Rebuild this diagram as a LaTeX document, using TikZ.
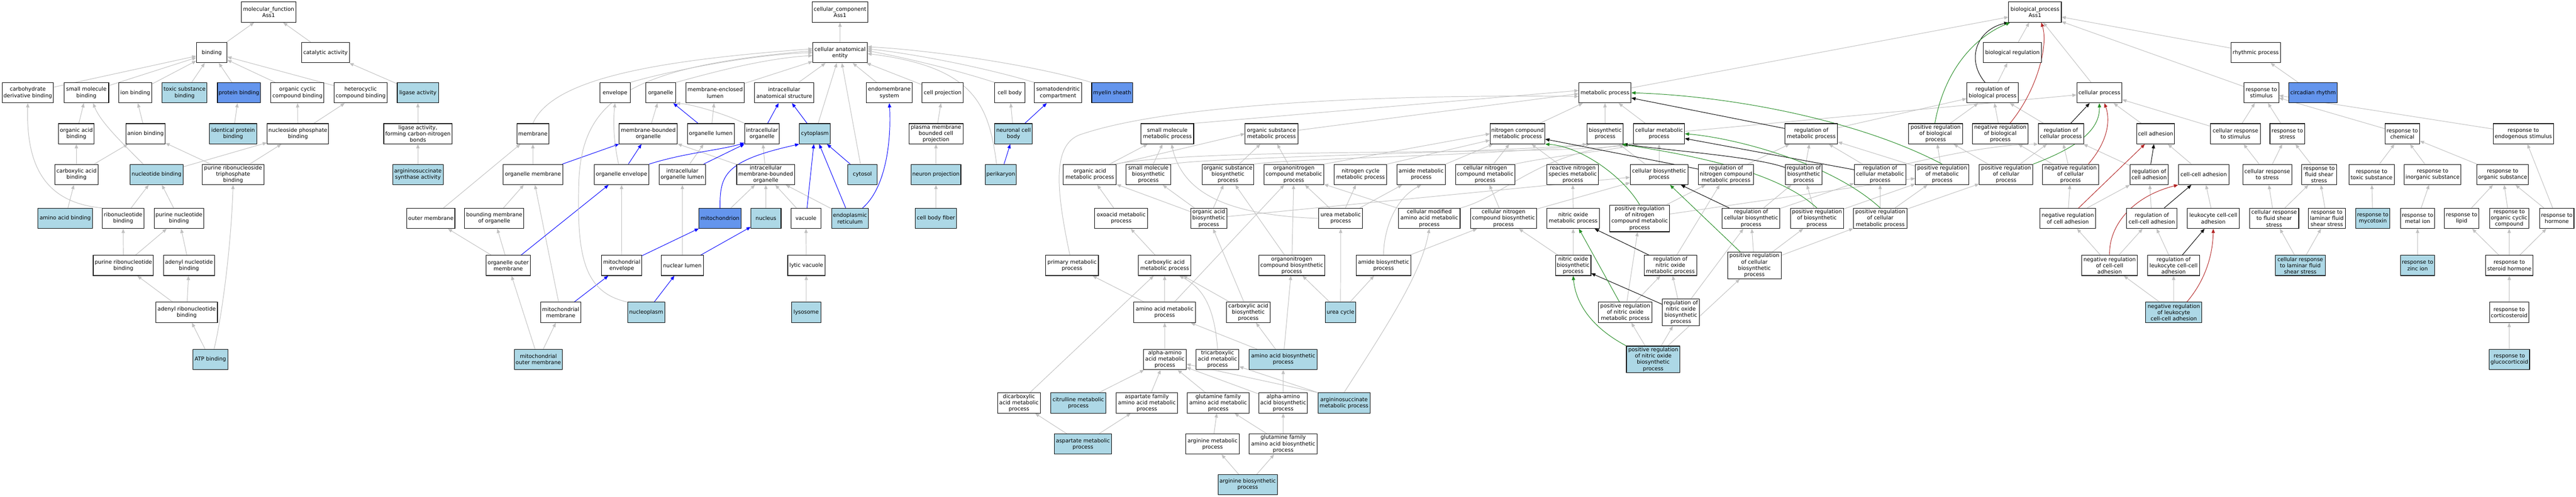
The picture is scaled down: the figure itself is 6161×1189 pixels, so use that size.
\documentclass[tikz,border=0pt]{standalone}
\usepackage{fontspec}
\setmainfont{DejaVu Sans}
\usetikzlibrary{arrows.meta}
\definecolor{lb}{HTML}{ADD8E6}
\definecolor{cbl}{HTML}{6495ED}
\definecolor{eg}{HTML}{C0C0C0}
\definecolor{gr}{HTML}{228B22}
\definecolor{rd}{HTML}{B22222}
\pgfdeclarelayer{bglayer}
\pgfdeclarelayer{edgelayer}
\pgfsetlayers{bglayer,edgelayer,main}
\tikzset{
 box/.style={draw=black, line width=1.3pt, rectangle, inner sep=1pt, minimum height=48.5pt, align=center, font=\fontsize{12.8}{15}\selectfont, fill=white},
 lbf/.style={fill=lb}, cbf/.style={fill=cbl}, tall/.style={minimum height=64pt},
 isa/.style={draw=eg, line width=1.2pt, -{Triangle[length=10pt,width=8pt]}},
 po/.style={isa, draw=blue},
 rg/.style={isa, draw=black},
 pr/.style={isa, draw=gr},
 nr/.style={isa, draw=rd}
}
\newcommand{\gn}[6]{\pgfmathsetmacro{\gnw}{#3-#2}\pgfmathsetmacro{\gnx}{(#2+#3)/2}\node[box,#5,minimum width=\gnw pt] (#1) at (\gnx,#4) {#6};}
\begin{document}
\begin{tikzpicture}[x=1pt,y=-1pt]
\begin{pgfonlayer}{bglayer}
\fill[white] (0,0) rectangle (6161,1189);
\end{pgfonlayer}
\useasboundingbox (0,0) rectangle (6161,1189);
% ---------------- molecular function
\gn{mf}{577}{708}{29}{}{molecular\_function\\Ass1}
\gn{binding}{470}{543}{126}{}{binding}
\gn{catalytic}{721}{836}{126}{}{catalytic activity}
\gn{carbder}{5}{128}{222}{}{carbohydrate\\derivative binding}
\gn{smallmol}{153}{260}{222}{}{small molecule\\binding}
\gn{ionb}{284}{363}{222}{}{ion binding}
\gn{toxicb}{388}{495}{222}{lbf}{toxic substance\\binding}
\gn{protb}{520}{623}{222}{cbf}{protein binding}
\gn{orgcyc}{648}{775}{222}{}{organic cyclic\\compound binding}
\gn{hetcyc}{799}{926}{222}{}{heterocyclic\\compound binding}
\gn{ligase}{950}{1049}{222}{lbf}{ligase activity}
\gn{orgacidb}{140}{225}{320}{}{organic acid\\binding}
\gn{anionb}{301}{395}{320}{}{anion binding}
\gn{identprot}{501}{614}{320}{lbf}{identical protein\\binding}
\gn{nucphos}{639}{786}{320}{}{nucleoside phosphate\\binding}
\gn{ligaseCN}{918}{1081}{320}{}{ligase activity,\\forming carbon-nitrogen\\bonds}
\gn{carbacidb}{131}{235}{417.5}{}{carboxylic acid\\binding}
\gn{nucleotideb}{311}{438}{417.5}{lbf}{nucleotide binding}
\gn{purRNTP}{484}{631}{417.5}{}{purine ribonucleoside\\triphosphate\\binding}
\gn{argsynth}{939}{1060}{417.5}{lbf}{argininosuccinate\\synthase activity}
\gn{aab}{91}{221}{522.5}{lbf}{amino acid binding}
\gn{ribob}{245}{344}{522.5}{}{ribonucleotide\\binding}
\gn{purnucb}{369}{487}{522.5}{}{purine nucleotide\\binding}
\gn{outermem}{973}{1088}{522.5}{}{outer membrane}
\gn{purribob}{223}{367}{635}{}{purine ribonucleotide\\binding}
\gn{adenylnb}{391}{513}{635}{}{adenyl nucleotide\\binding}
\gn{adenylrb}{373}{520}{747.5}{}{adenyl ribonucleotide\\binding}
\gn{atpb}{461}{545}{860}{lbf}{ATP binding}
% ---------------- cellular component
\gn{cc}{1942}{2076}{29}{}{cellular\_component\\Ass1}
\gn{cae}{1944}{2074}{126}{}{cellular anatomical\\entity}
\gn{envelope}{1435}{1507}{222}{}{envelope}
\gn{organelle}{1544}{1616}{222}{}{organelle}
\gn{memlumen}{1641}{1780}{222}{}{membrane-enclosed\\lumen}
\gn{intraas}{1805}{1946}{222}{}{intracellular\\anatomical structure}
\gn{endomem}{2072}{2182}{222}{}{endomembrane\\system}
\gn{cellproj}{2205}{2304}{222}{}{cell projection}
\gn{cellbody}{2379}{2451}{222}{}{cell body}
\gn{somato}{2474}{2587}{222}{}{somatodendritic\\compartment}
\gn{myelin}{2611}{2709}{222}{cbf}{myelin sheath}
\gn{membrane}{1236}{1313}{320}{}{membrane}
\gn{mbo}{1481}{1620}{320}{}{membrane-bounded\\organelle}
\gn{orglumen}{1644}{1756}{320}{}{organelle lumen}
\gn{intraorg}{1781}{1864}{320}{}{intracellular\\organelle}
\gn{cytoplasm}{1912}{1986}{320}{lbf}{cytoplasm}
\gn{pmbcp}{2174}{2303}{320}{}{plasma membrane\\bounded cell\\projection}
\gn{ncb}{2379}{2469}{320}{lbf}{neuronal cell\\body}
\gn{orgmem}{1203}{1346}{417.5}{}{organelle membrane}
\gn{orgenv}{1421}{1552}{417.5}{}{organelle envelope}
\gn{iol}{1576}{1688}{417.5}{}{intracellular\\organelle lumen}
\gn{imbo}{1762}{1901}{417.5}{}{intracellular\\membrane-bounded\\organelle}
\gn{cytosol}{2027}{2098}{417.5}{lbf}{cytosol}
\gn{neuronproj}{2179}{2298}{417.5}{lbf}{neuron projection}
\gn{perikaryon}{2356}{2431}{417.5}{lbf}{perikaryon}
\gn{bmo}{1111}{1253}{522.5}{}{bounding membrane\\of organelle}
\gn{mito}{1672}{1772}{522.5}{cbf}{mitochondrion}
\gn{nucleus}{1796}{1868}{522.5}{lbf}{nucleus}
\gn{vacuole}{1892}{1963}{522.5}{}{vacuole}
\gn{er}{1989}{2077}{522.5}{lbf}{endoplasmic\\reticulum}
\gn{cbf}{2189}{2288}{522.5}{lbf}{cell body fiber}
\gn{oom}{1163}{1268}{635}{}{organelle outer\\membrane}
\gn{mitoenv}{1439}{1535}{635}{}{mitochondrial\\envelope}
\gn{nuclumen}{1582}{1682}{635}{}{nuclear lumen}
\gn{lyticvac}{1884}{1973}{635}{}{lytic vacuole}
\gn{mitomem}{1293}{1389}{747.5}{}{mitochondrial\\membrane}
\gn{nucleoplasm}{1501}{1590}{747.5}{lbf}{nucleoplasm}
\gn{lysosome}{1893}{1963}{747.5}{lbf}{lysosome}
\gn{mom}{1230}{1345}{860}{lbf}{mitochondrial\\outer membrane}
% ---------------- biological process
\gn{bp}{4804}{4930}{29}{}{biological\_process\\Ass1}
\gn{bioreg}{4743}{4883}{126}{}{biological regulation}
\gn{rhythmic}{5336}{5454}{126}{}{rhythmic process}
\gn{metab}{3776}{3901}{222}{}{metabolic process}
\gn{regbp}{4704}{4827}{222}{}{regulation of\\biological process}
\gn{cellproc}{4967}{5075}{222}{}{cellular process}
\gn{respstim}{5367}{5450}{222}{}{response to\\stimulus}
\gn{circadian}{5474}{5590}{222}{cbf}{circadian rhythm}
\gn{smmp}{2729}{2855}{320}{}{small molecule\\metabolic process}
\gn{osmp}{2978}{3104}{320}{}{organic substance\\metabolic process}
\gn{ncmp}{3564}{3695}{320}{}{nitrogen compound\\metabolic process}
\gn{biosyn}{3796}{3882}{320}{}{biosynthetic\\process}
\gn{cellmet}{3907}{4029}{320}{}{cellular metabolic\\process}
\gn{regmp}{4269}{4395}{320}{}{regulation of\\metabolic process}
\gn{posregbp}{4565}{4694}{320}{}{positive regulation\\of biological\\process}
\gn{negregbp}{4717}{4851}{320}{}{negative regulation\\of biological\\process}
\gn{regcp}{4875}{4983}{320}{}{regulation of\\cellular process}
\gn{celladh}{5110}{5201}{320}{}{cell adhesion}
\gn{crstim}{5287}{5406}{320}{}{cellular response\\to stimulus}
\gn{rstress}{5429}{5512}{320}{}{response to\\stress}
\gn{rchem}{5704}{5787}{320}{}{response to\\chemical}
\gn{rendo}{5963}{6107}{320}{}{response to\\endogenous stimulus}
\gn{oamp}{2543}{2670}{417.5}{}{organic acid\\metabolic process}
\gn{smbp}{2693}{2800}{417.5}{}{small molecule\\biosynthetic\\process}
\gn{osbp}{2875}{2999}{417.5}{}{organic substance\\biosynthetic\\process}
\gn{oncmp}{3023}{3166}{417.5}{}{organonitrogen\\compound metabolic\\process}
\gn{ncycle}{3191}{3317}{417.5}{}{nitrogen cycle\\metabolic process}
\gn{amidemp}{3341}{3457}{417.5}{}{amide metabolic\\process}
\gn{cncmp}{3481}{3623}{417.5}{}{cellular nitrogen\\compound metabolic\\process}
\gn{rnsmp}{3700}{3823}{417.5}{}{reactive nitrogen\\species metabolic\\process}
\gn{cbp}{3899}{4037}{417.5}{}{cellular biosynthetic\\process}
\gn{regncmp}{4062}{4194}{417.5}{}{regulation of\\nitrogen compound\\metabolic process}
\gn{regbiosyn}{4270}{4358}{417.5}{}{regulation of\\biosynthetic\\process}
\gn{regcmp}{4435}{4558}{417.5}{}{regulation of\\cellular metabolic\\process}
\gn{posregmp}{4581}{4709}{417.5}{}{positive regulation\\of metabolic\\process}
\gn{posregcp}{4734}{4862}{417.5}{}{positive regulation\\of cellular\\process}
\gn{negregcp}{4885}{5019}{417.5}{}{negative regulation\\of cellular\\process}
\gn{regcelladh}{5094}{5186}{417.5}{}{regulation of\\cell adhesion}
\gn{ccadh}{5210}{5331}{417.5}{}{cell-cell adhesion}
\gn{crstress}{5364}{5481}{417.5}{}{cellular response\\to stress}
\gn{rfluid}{5505}{5588}{417.5}{}{response to\\fluid shear\\stress}
\gn{rtoxic}{5618}{5726}{417.5}{}{response to\\toxic substance}
\gn{rinorg}{5750}{5886}{417.5}{}{response to\\inorganic substance}
\gn{rorgsub}{5924}{6047}{417.5}{}{response to\\organic substance}
\gn{oxoacid}{2618}{2745}{522.5}{}{oxoacid metabolic\\process}
\gn{oabp}{2848}{2934}{522.5}{}{organic acid\\biosynthetic\\process}
\gn{ureamp}{3154}{3259}{522.5}{}{urea metabolic\\process}
\gn{cmaamp}{3345}{3492}{522.5}{}{cellular modified\\amino acid metabolic\\process}
\gn{cncbp}{3517}{3675}{522.5}{}{cellular nitrogen\\compound biosynthetic\\process}
\gn{nomp}{3700}{3825}{522.5}{}{nitric oxide\\metabolic process}
\gn{posregncmp}{3850}{3993}{522.5}{tall}{positive regulation\\of nitrogen\\compound metabolic\\process}
\gn{regcbp}{4119}{4257}{522.5}{}{regulation of\\cellular biosynthetic\\process}
\gn{posregbiosyn}{4282}{4409}{522.5}{}{positive regulation\\of biosynthetic\\process}
\gn{posregcmp}{4433}{4561}{522.5}{}{positive regulation\\of cellular\\metabolic process}
\gn{negregca}{4879}{5012}{522.5}{}{negative regulation\\of cell adhesion}
\gn{regccadh}{5086}{5207}{522.5}{}{regulation of\\cell-cell adhesion}
\gn{leukccadh}{5231}{5356}{522.5}{}{leukocyte cell-cell\\adhesion}
\gn{crfluid}{5380}{5498}{522.5}{}{cellular response\\to fluid shear\\stress}
\gn{rlaminar}{5521}{5609}{522.5}{}{response to\\laminar fluid\\shear stress}
\gn{rmyco}{5634}{5716}{522.5}{lbf}{response to\\mycotoxin}
\gn{rmetal}{5741}{5823}{522.5}{}{response to\\metal ion}
\gn{rlipid}{5846}{5929}{522.5}{}{response to\\lipid}
\gn{rorgcyc}{5954}{6048}{522.5}{}{response to\\organic cyclic\\compound}
\gn{rhormone}{6074}{6156}{522.5}{}{response to\\hormone}
\gn{primary}{2501}{2627}{635}{}{primary metabolic\\process}
\gn{camp}{2723}{2848}{635}{}{carboxylic acid\\metabolic process}
\gn{oncbp}{3011}{3168}{635}{}{organonitrogen\\compound biosynthetic\\process}
\gn{amidebp}{3244}{3374}{635}{}{amide biosynthetic\\process}
\gn{nobp}{3720}{3805}{635}{}{nitric oxide\\biosynthetic\\process}
\gn{regnomp}{3932}{4058}{635}{}{regulation of\\nitric oxide\\metabolic process}
\gn{posregcbp}{4132}{4260}{635}{tall}{positive regulation\\of cellular\\biosynthetic\\process}
\gn{negregccadh}{4979}{5112}{635}{}{negative regulation\\of cell-cell\\adhesion}
\gn{regleuk}{5136}{5261}{635}{}{regulation of\\leukocyte cell-cell\\adhesion}
\gn{crlaminar}{5442}{5561}{635}{lbf}{cellular response\\to laminar fluid\\shear stress}
\gn{rzinc}{5741}{5823}{635}{lbf}{response to\\zinc ion}
\gn{rsteroid}{5945}{6058}{635}{}{response to\\steroid hormone}
\gn{aamp}{2712}{2859}{747.5}{}{amino acid metabolic\\process}
\gn{cabp}{2933}{3038}{747.5}{}{carboxylic acid\\biosynthetic\\process}
\gn{ureacycle}{3170}{3242}{747.5}{lbf}{urea cycle}
\gn{posregnomp}{3823}{3951}{747.5}{}{positive regulation\\of nitric oxide\\metabolic process}
\gn{regnobp}{3976}{4064}{747.5}{tall}{regulation of\\nitric oxide\\biosynthetic\\process}
\gn{negregleuk}{5132}{5266}{747.5}{lbf}{negative regulation\\of leukocyte\\cell-cell adhesion}
\gn{rcortico}{5954}{6048}{747.5}{}{response to\\corticosteroid}
\gn{aaamp}{2735}{2837}{860}{}{alpha-amino\\acid metabolic\\process}
\gn{tcamp}{2861}{2963}{860}{}{tricarboxylic\\acid metabolic\\process}
\gn{aabp}{2988}{3150}{860}{lbf}{amino acid biosynthetic\\process}
\gn{posregnobp}{3890}{4018}{860}{tall,lbf}{positive regulation\\of nitric oxide\\biosynthetic\\process}
\gn{rgluco}{5953}{6050}{860}{lbf}{response to\\glucocorticoid}
\gn{dcamp}{2386}{2488}{964}{}{dicarboxylic\\acid metabolic\\process}
\gn{citrulline}{2513}{2645}{964}{lbf}{citrulline metabolic\\process}
\gn{aspfam}{2670}{2816}{964}{}{aspartate family\\amino acid metabolic\\process}
\gn{glnfam}{2840}{2987}{964}{}{glutamine family\\amino acid metabolic\\process}
\gn{aaabp}{3011}{3127}{964}{}{alpha-amino\\acid biosynthetic\\process}
\gn{argsuccmp}{3152}{3277}{964}{lbf}{argininosuccinate\\metabolic process}
\gn{aspmp}{2522}{2658}{1062.5}{lbf}{aspartate metabolic\\process}
\gn{argmp}{2836}{2964}{1062.5}{}{arginine metabolic\\process}
\gn{glnfambp}{2988}{3150}{1062.5}{}{glutamine family\\amino acid biosynthetic\\process}
\gn{argbp}{2913}{3055}{1159.5}{lbf}{arginine biosynthetic\\process}

\begin{pgfonlayer}{edgelayer}
% ---- MF edges
\foreach \a/\b in {binding/mf, catalytic/mf, carbder/binding, smallmol/binding, ionb/binding, toxicb/binding, protb/binding, orgcyc/binding, hetcyc/binding, ligase/catalytic, orgacidb/smallmol, anionb/ionb, identprot/protb, nucphos/orgcyc, nucphos/hetcyc, ligaseCN/ligase, carbacidb/orgacidb, carbacidb/anionb, nucleotideb/nucphos, purRNTP/anionb, purRNTP/nucphos, argsynth/ligaseCN, aab/carbacidb, ribob/nucleotideb, purnucb/nucleotideb, purribob/ribob, purribob/purnucb, adenylnb/purnucb, adenylrb/purribob, adenylrb/adenylnb, atpb/adenylrb}
  \draw[isa] (\a) -- (\b);
\draw[isa] (ribob.north west) .. controls (110,485) and (62,400) .. (carbder.south);
\draw[isa] ([xshift=9pt]atpb.north) .. controls (530,760) and (552,600) .. (purRNTP.south);
\draw[isa] ([xshift=-32pt]nucleotideb.north) .. controls (280,330) and (240,290) .. ([xshift=16pt]smallmol.south);
% ---- CC edges
\foreach \a/\b in {cae/cc, memlumen/cae, intraas/cae, endomem/cae, cellproj/cae, cytoplasm/cae, cytosol/cae, mbo/organelle, orglumen/memlumen, pmbcp/cellproj, ncb/cellbody, orgmem/membrane, iol/orglumen, imbo/mbo, imbo/intraorg, neuronproj/pmbcp, outermem/membrane, bmo/orgmem, mito/imbo, nucleus/imbo, vacuole/imbo, er/imbo, cbf/neuronproj, oom/outermem, oom/bmo, mitoenv/orgenv, nuclumen/iol, lyticvac/vacuole, mitomem/orgmem, lysosome/lyticvac, mom/oom, mom/mitomem}
  \draw[isa] (\a) -- (\b);
\foreach \a/\b in {orglumen/organelle, intraorg/intraas, cytoplasm/intraas, ncb/somato, orgmem/mbo, orgenv/mbo, perikaryon/ncb, vacuole/cytoplasm, er/cytoplasm, cytosol/cytoplasm, oom/orgenv, mitoenv/mito, nuclumen/nucleus, mitomem/mitoenv, nucleoplasm/nuclumen}
  \draw[po] (\a) -- (\b);
\draw[po] (iol) -- (intraorg.south west);
\draw[isa] (membrane.north) .. controls (1320,190) and (1560,145) .. (cae.172);
\draw[isa] (nucleoplasm.north west) .. controls (1400,700) and (1380,620) .. (1384,450) .. controls (1386,240) and (1500,160) .. (cae.176);
\draw[isa] (envelope.north east) .. controls (1600,170) and (1800,130) .. (cae.180);
\draw[isa] (organelle.north east) .. controls (1680,180) and (1820,140) .. (cae.186);
\draw[isa] ([xshift=-7pt]orgenv.north) .. controls (1470,350) and (1465,300) .. (envelope.south);
\draw[isa] (intraorg.north west) .. controls (1740,275) and (1660,250) .. (organelle.south east);
\draw[isa] ([xshift=-10pt]perikaryon.north) .. controls (2365,250) and (2330,160) .. (cae.-2);
\draw[isa] (cellbody.north west) .. controls (2280,165) and (2150,135) .. (cae.4);
\draw[isa] (somato.north west) .. controls (2350,160) and (2180,128) .. (cae.8);
\draw[isa] (myelin.north west) .. controls (2450,150) and (2200,118) .. (cae.12);
\draw[po] ([xshift=30pt]er.north) .. controls (2118,450) and (2132,340) .. (endomem.south);
\draw[po] (mito.north) .. controls (1722,420) and (1730,385) .. (cytoplasm.south west);
\draw[po] (orgenv.north east) .. controls (1640,365) and (1720,360) .. ([yshift=3pt]intraorg.south west);
% ---- BP edges (is_a)
\foreach \a/\b in {metab/bp, bioreg/bp, regbp/bioreg, posregbp/regbp, negregbp/regbp, cellproc/bp, rhythmic/bp, respstim/bp, circadian/rhythmic, ncmp/metab, biosyn/metab, cellmet/metab, cellmet/cellproc, regcp/regbp, posregcp/regcp, posregcp/posregbp, negregcp/regcp, negregcp/negregbp, celladh/cellproc, crstim/cellproc, crstim/respstim, rstress/respstim, rchem/respstim, rendo/respstim, regmp/regbp, regncmp/regmp, regbiosyn/regmp, regcmp/regmp, posregmp/regmp, posregmp/posregbp, regcbp/regbiosyn, regcbp/regcmp, posregbiosyn/regbiosyn, posregbiosyn/posregmp, posregcmp/regcmp, posregcmp/posregmp, posregcmp/posregcp, posregcbp/regcbp, posregcbp/posregbiosyn, posregcbp/posregcmp, posregncmp/regncmp, posregncmp/posregmp, regnomp/regncmp, posregnomp/posregncmp, posregnomp/regnomp, regnobp/regnomp, regnobp/regcbp, posregnobp/posregnomp, posregnobp/regnobp, posregnobp/posregcbp, nobp/nomp, nobp/cncbp, nomp/rnsmp, rnsmp/ncmp, oamp/smmp, smbp/smmp, osbp/osmp, oncmp/osmp, oxoacid/oamp, oabp/oamp, oabp/smbp, oabp/osbp, oabp/cbp, camp/oxoacid, cabp/camp, cabp/oabp, aamp/primary, aamp/camp, aamp/oncmp, cncmp/ncmp, cbp/biosyn, cbp/cellmet, ureamp/ncycle, ureamp/oncmp, ureamp/amidemp, cmaamp/oncmp, cncbp/cncmp, cncbp/cbp, oncbp/oncmp, oncbp/osbp, amidebp/cncbp, ureacycle/ureamp, ureacycle/oncbp, ureacycle/amidebp, aaamp/aamp, aabp/aamp, aabp/cabp, aabp/oncbp, dcamp/camp, citrulline/aaamp, aspfam/aaamp, glnfam/aaamp, aaabp/aaamp, aaabp/aabp, aspmp/dcamp, aspmp/aspfam, argmp/glnfam, glnfambp/glnfam, glnfambp/aaabp, argbp/argmp, argbp/glnfambp, regcelladh/regcp, negregca/negregcp, negregca/regcelladh, ccadh/celladh, regccadh/regcelladh, leukccadh/ccadh, negregccadh/negregca, negregccadh/regccadh, regleuk/regccadh, negregleuk/regleuk, negregleuk/negregccadh, crstress/crstim, crstress/rstress, rfluid/rstress, rtoxic/rchem, rinorg/rchem, rorgsub/rchem, crfluid/crstress, crfluid/rfluid, rlaminar/rfluid, rmyco/rtoxic, rmetal/rinorg, rlipid/rorgsub, rorgcyc/rorgsub, rhormone/rorgsub, rhormone/rendo, crlaminar/crfluid, crlaminar/rlaminar, rzinc/rmetal, rsteroid/rlipid, rsteroid/rorgcyc, rsteroid/rhormone, rcortico/rsteroid, rgluco/rcortico}
  \draw[isa] (\a) -- (\b);
\draw[isa] (smmp.north east) -- (metab.175);
\draw[isa] (osmp) -- (metab.182);
\draw[isa] (oamp.north east) -- (osmp.west);
\draw[isa] (oncmp.north east) -- (ncmp.west);
\draw[isa] (ncycle.north east) -- (ncmp);
\draw[isa] (amidemp.north east) -- (ncmp);
\draw[isa] (argsuccmp.north west) -- (aaamp);
\draw[isa] (argsuccmp.north west) -- (tcamp);
\draw[isa] (primary) .. controls (2525,450) and (2515,340) .. (2590,320) .. controls (2800,250) and (3300,225) .. (metab.188);
\draw[isa] (tcamp.north) .. controls (2905,740) and (2880,690) .. ([xshift=35pt]camp.south);
\draw[isa] ([xshift=-5pt]oamp.north east) .. controls (2900,350) and (3700,375) .. (cellmet.south west);
\draw[isa] (ureamp.west) .. controls (2950,515) and (2830,470) .. ([xshift=10pt]smmp.south);
\draw[isa] (cmaamp.north east) .. controls (3600,470) and (3680,360) .. ([xshift=6pt]cellmet.south west);
\draw[isa] (cncmp.north east) .. controls (3700,375) and (3850,360) .. ([xshift=12pt]cellmet.south west);
\draw[isa] (argsuccmp.north) .. controls (3330,760) and (3400,650) .. (cmaamp.south);
\draw[isa] (amidebp.north) .. controls (3309,560) and (3330,480) .. (amidemp.south);
\draw[isa] (smbp.north east) .. controls (2900,375) and (3600,365) .. (biosyn.south west);
\draw[isa] (osbp.north east) .. controls (3100,378) and (3600,372) .. ([xshift=8pt]biosyn.south west);
\draw[isa] (regcmp.north east) .. controls (4700,360) and (4800,345) .. (regcp.south west);
% ---- regulates
\foreach \a/\b in {regcp/cellproc, regmp/metab, regncmp/ncmp, regcmp/cellmet, regcbp/cbp, regnomp/nomp, regnobp/nobp, regcelladh/celladh, regccadh/ccadh, regleuk/leukccadh}
  \draw[rg] (\a) -- (\b);
\draw[rg] ([xshift=-18pt]regbp.north) .. controls (4700,140) and (4730,70) .. (bp.south west);
\draw[rg] (regbiosyn) .. controls (4200,375) and (3990,360) .. (biosyn.south east);
% ---- positively regulates
\draw[pr] (posregnomp) -- (nomp);
\draw[pr] (posregcbp) -- (cbp);
\draw[pr] ([xshift=-2pt]posregbp.north) .. controls (4650,170) and (4720,90) .. ([xshift=4pt]bp.south west);
\draw[pr] (posregcp.north east) .. controls (4990,345) and (5022,300) .. (cellproc.south);
\draw[pr] (posregmp.north) .. controls (4450,290) and (4150,230) .. (metab.east);
\draw[pr] (posregcmp.north) .. controls (4380,390) and (4150,330) .. (cellmet.east);
\draw[pr] (posregbiosyn.north) .. controls (4240,400) and (4000,365) .. ([xshift=-4pt]biosyn.south east);
\draw[pr] (posregncmp.north) .. controls (3880,420) and (3780,350) .. (ncmp.south east);
\draw[pr] (posregnobp.north west) .. controls (3800,780) and (3768,720) .. (nobp.south);
% ---- negatively regulates
\draw[nr] (negregca) -- (celladh);
\draw[nr] ([xshift=23pt]negregbp.north) .. controls (4870,220) and (4900,110) .. ([xshift=15pt]bp.south);
\draw[nr] ([xshift=-25pt]negregcp.north east) .. controls (5048,330) and (5045,280) .. ([xshift=12pt]cellproc.south);
\draw[nr] (negregccadh.north) .. controls (5043,540) and (5100,470) .. (ccadh.south west);
\draw[nr] ([xshift=31pt]negregleuk.north) .. controls (5275,670) and (5292,610) .. (leukccadh.south);
\end{pgfonlayer}
\end{tikzpicture}
\end{document}
